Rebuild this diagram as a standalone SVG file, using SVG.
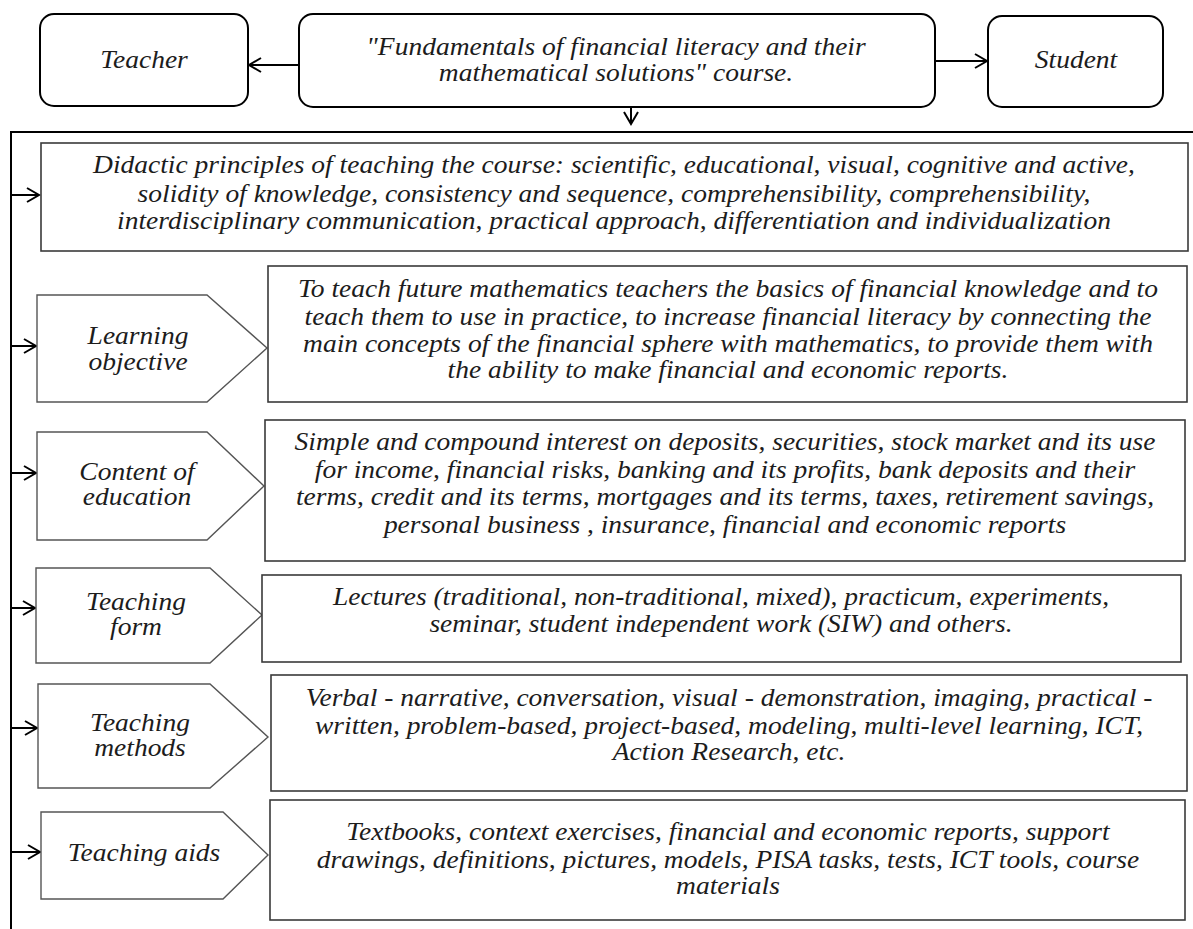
<svg xmlns="http://www.w3.org/2000/svg" width="1193" height="929" viewBox="0 0 1193 929">
<style>
.bg{fill:#fff}
.top{fill:#fff;stroke:#000;stroke-width:2}
.box{fill:#fff;stroke:#3a3a3a;stroke-width:1.6}
.pent{fill:#fff;stroke:#555;stroke-width:1.4}
.con{fill:none;stroke:#000;stroke-width:2}
text{font-family:"Liberation Serif","Times New Roman",serif;font-style:italic;fill:#1c1c1c;text-anchor:middle}
.t{font-size:25px}
.tt{font-size:25px}
</style>
<defs>
<marker id="arr" markerUnits="userSpaceOnUse" markerWidth="16" markerHeight="18" refX="13" refY="8" orient="auto">
<path d="M1,1 L13,8 L1,15" fill="none" stroke="#000" stroke-width="2"/>
</marker>
</defs>
<rect class="bg" x="0" y="0" width="1193" height="929"/>

<g id="connectors">
<line class="con" x1="299" y1="65" x2="249" y2="65" marker-end="url(#arr)"/>
<line class="con" x1="935" y1="61" x2="987" y2="61" marker-end="url(#arr)"/>
<line class="con" x1="631" y1="107" x2="631" y2="124" marker-end="url(#arr)"/>
<polyline class="con" points="1193,132 11,132 11,929"/>
<line class="con" x1="11" y1="195" x2="39" y2="195" marker-end="url(#arr)"/>
<line class="con" x1="11" y1="346" x2="36" y2="346" marker-end="url(#arr)"/>
<line class="con" x1="11" y1="473" x2="36" y2="473" marker-end="url(#arr)"/>
<line class="con" x1="11" y1="608" x2="35" y2="608" marker-end="url(#arr)"/>
<line class="con" x1="11" y1="728" x2="37" y2="728" marker-end="url(#arr)"/>
<line class="con" x1="11" y1="852" x2="40" y2="852" marker-end="url(#arr)"/>
</g>

<g id="teacher">
<rect class="top" x="40" y="14" width="208" height="92" rx="14"/>
<g transform="translate(144,0) scale(1.1,1)"><text class="tt" x="0" y="68">Teacher</text></g>
</g>
<g id="course">
<rect class="top" x="299" y="14" width="636" height="93" rx="14"/>
<g transform="translate(616,0) scale(1.1,1)">
<text class="tt" x="0" y="55">"Fundamentals of financial literacy and their</text>
<text class="tt" x="0" y="81">mathematical solutions" course.</text>
</g>
</g>
<g id="student">
<rect class="top" x="988" y="16" width="175" height="91" rx="14"/>
<g transform="translate(1076,0) scale(1.1,1)"><text class="tt" x="0" y="68">Student</text></g>
</g>

<g id="didactic">
<rect class="box" x="41" y="143" width="1147" height="108"/>
<g transform="translate(614,0) scale(1.1,1)">
<text class="t" x="0" y="173">Didactic principles of teaching the course: scientific, educational, visual, cognitive and active,</text>
<text class="t" x="0" y="202">solidity of knowledge, consistency and sequence, comprehensibility, comprehensibility,</text>
<text class="t" x="0" y="229">interdisciplinary communication, practical approach, differentiation and individualization</text>
</g>
</g>

<g id="learning-objective">
<polygon class="pent" points="37,295 207,295 267,348 207,402 37,402"/>
<g transform="translate(138,0) scale(1.1,1)">
<text class="t" x="0" y="344">Learning</text>
<text class="t" x="0" y="370">objective</text>
</g>
</g>
<g id="learning-objective-text">
<rect class="box" x="268" y="266" width="919" height="136"/>
<g transform="translate(728,0) scale(1.1,1)">
<text class="t" x="0" y="297">To teach future mathematics teachers the basics of financial knowledge and to</text>
<text class="t" x="0" y="325">teach them to use in practice, to increase financial literacy by connecting the</text>
<text class="t" x="0" y="352">main concepts of the financial sphere with mathematics, to provide them with</text>
<text class="t" x="0" y="378">the ability to make financial and economic reports.</text>
</g>
</g>

<g id="content">
<polygon class="pent" points="37,432 207,432 264,486 207,540 37,540"/>
<g transform="translate(137,0) scale(1.1,1)">
<text class="t" x="0" y="480">Content of</text>
<text class="t" x="0" y="505">education</text>
</g>
</g>
<g id="content-text">
<rect class="box" x="265" y="420" width="920" height="141"/>
<g transform="translate(725,0) scale(1.1,1)">
<text class="t" x="0" y="450">Simple and compound interest on deposits, securities, stock market and its use</text>
<text class="t" x="0" y="478">for income, financial risks, banking and its profits, bank deposits and their</text>
<text class="t" x="0" y="505">terms, credit and its terms, mortgages and its terms, taxes, retirement savings,</text>
<text class="t" x="0" y="533">personal business , insurance, financial and economic reports</text>
</g>
</g>

<g id="teaching-form">
<polygon class="pent" points="36,568 210,568 262,615 210,663 36,663"/>
<g transform="translate(136,0) scale(1.1,1)">
<text class="t" x="0" y="610">Teaching</text>
<text class="t" x="0" y="635">form</text>
</g>
</g>
<g id="teaching-form-text">
<rect class="box" x="262" y="575" width="919" height="87"/>
<g transform="translate(721,0) scale(1.1,1)">
<text class="t" x="0" y="605">Lectures (traditional, non-traditional, mixed), practicum, experiments,</text>
<text class="t" x="0" y="632">seminar, student independent work (SIW) and others.</text>
</g>
</g>

<g id="teaching-methods">
<polygon class="pent" points="38,684 210,684 268,737 210,788 38,788"/>
<g transform="translate(140,0) scale(1.1,1)">
<text class="t" x="0" y="731">Teaching</text>
<text class="t" x="0" y="756">methods</text>
</g>
</g>
<g id="teaching-methods-text">
<rect class="box" x="271" y="675" width="916" height="116"/>
<g transform="translate(729,0) scale(1.1,1)">
<text class="t" x="0" y="706">Verbal - narrative, conversation, visual - demonstration, imaging, practical -</text>
<text class="t" x="0" y="734">written, problem-based, project-based, modeling, multi-level learning, ICT,</text>
<text class="t" x="0" y="760">Action Research, etc.</text>
</g>
</g>

<g id="teaching-aids">
<polygon class="pent" points="41,812 223,812 268,855 223,899 41,899"/>
<g transform="translate(144,0) scale(1.1,1)">
<text class="t" x="0" y="861">Teaching aids</text>
</g>
</g>
<g id="teaching-aids-text">
<rect class="box" x="270" y="800" width="915" height="120"/>
<g transform="translate(728,0) scale(1.1,1)">
<text class="t" x="0" y="840">Textbooks, context exercises, financial and economic reports, support</text>
<text class="t" x="0" y="868">drawings, definitions, pictures, models, PISA tasks, tests, ICT tools, course</text>
<text class="t" x="0" y="894">materials</text>
</g>
</g>
</svg>
